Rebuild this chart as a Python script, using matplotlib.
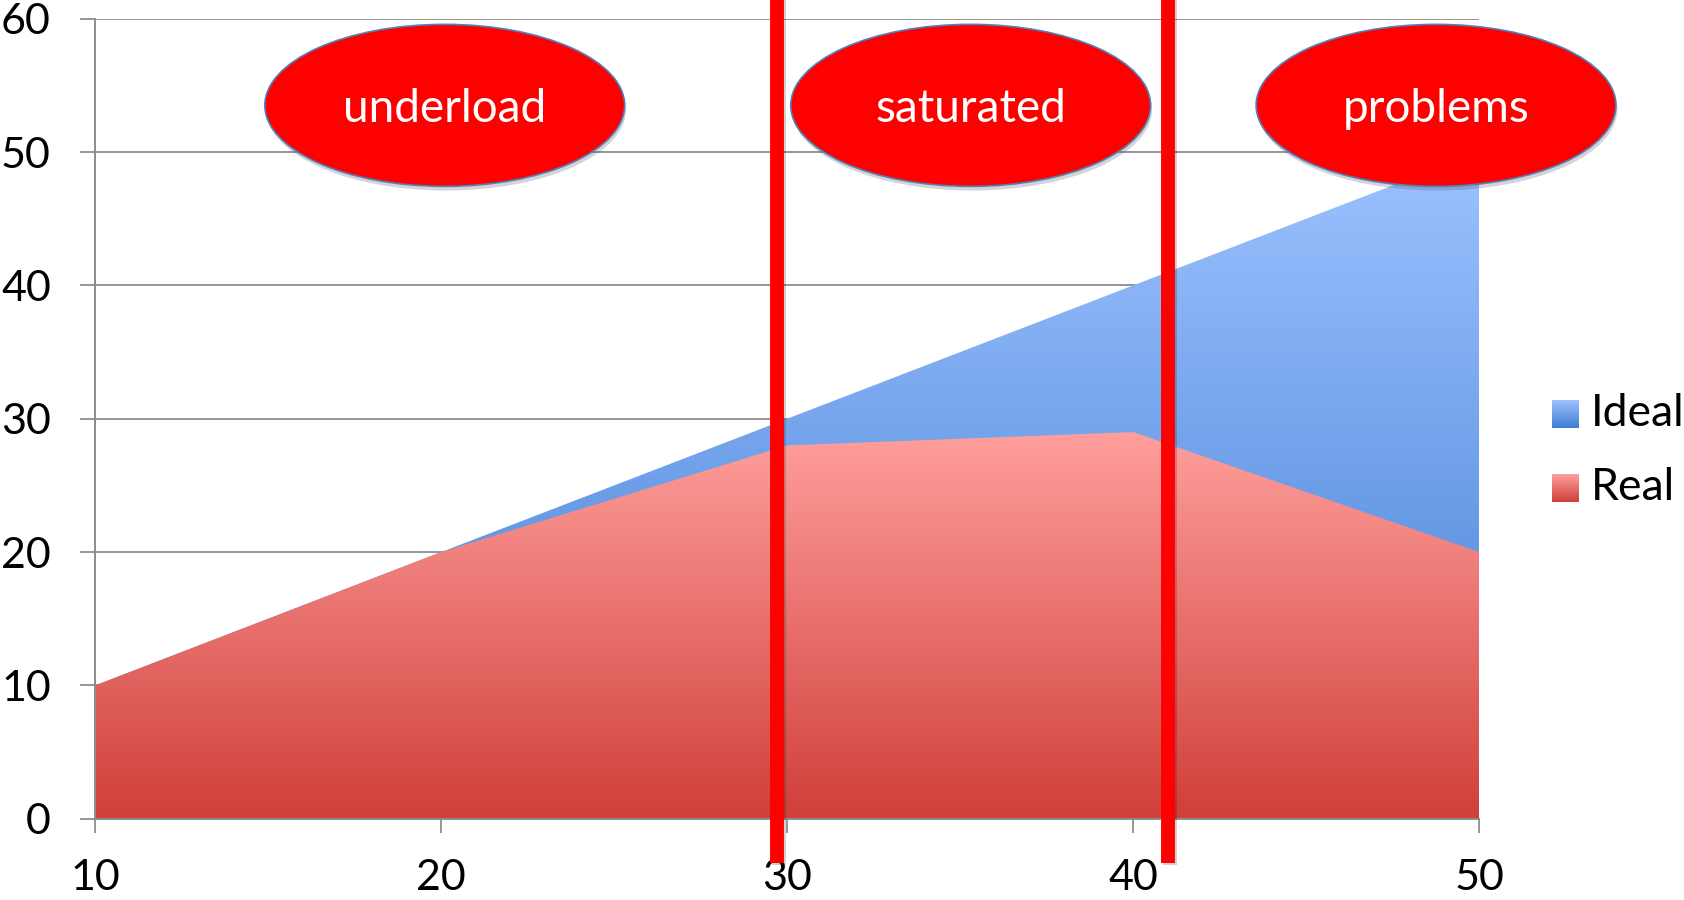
import numpy as np
import matplotlib
matplotlib.use('Agg')
import matplotlib.pyplot as plt
import matplotlib.patheffects as pe
from matplotlib.patches import Ellipse

plt.rcParams['font.family'] = ['Lato', 'DejaVu Sans']

# ── Data ────────────────────────────────────────────────────────────────────
x_vals     = [10, 20, 30, 40, 50]
ideal_vals = [10, 20, 30, 40, 50]
real_vals  = [10, 20, 28, 29, 20]

x_ticks = [10, 20, 30, 40, 50]
y_ticks = [0, 10, 20, 30, 40, 50, 60]

# regions marked on the chart
region_labels  = ['underload', 'saturated', 'problems']
region_centers = [20.1, 35.3, 48.75]
boundaries     = [29.7, 41.0]

# ── Colours ─────────────────────────────────────────────────────────────────
IDEAL_TOP, IDEAL_BOT = '#9DC2FF', '#3E7CD2'
REAL_TOP,  REAL_BOT  = '#FF9F9C', '#D03F3A'
GRID = '#8C8C8C'


def hex_rgb(h):
    return np.array(matplotlib.colors.to_rgb(h))


def gradient(top, bot, n=256):
    t = np.linspace(0, 1, n)[:, None, None]
    return hex_rgb(top) * (1 - t) + hex_rgb(bot) * t


def gradient_area(ax, x, y, top, bot, z):
    x = np.asarray(x, float)
    y = np.asarray(y, float)
    poly = ax.fill_between(x, 0, y, facecolor='none', edgecolor='none', zorder=z)
    im = ax.imshow(gradient(top, bot), extent=[x.min(), x.max(), 0, y.max()],
                   aspect='auto', origin='upper', zorder=z, interpolation='bilinear')
    im.set_clip_path(poly.get_paths()[0], transform=ax.transData)


fig = plt.figure(figsize=(16.84, 9.0), dpi=100)
ax = fig.add_axes([95.3 / 1684, 81.3 / 900, 1384 / 1684, 800 / 900])

gradient_area(ax, x_vals, ideal_vals, IDEAL_TOP, IDEAL_BOT, 2)
gradient_area(ax, x_vals, real_vals, REAL_TOP, REAL_BOT, 3)

ax.set_xlim(10, 50)
ax.set_ylim(0, 60)
ax.set_xticks(x_ticks)
ax.set_yticks(y_ticks)
ax.grid(axis='y', color=GRID, lw=1.3, zorder=1)
ax.set_axisbelow(True)
for s in ['top', 'right']:
    ax.spines[s].set_visible(False)
for s in ['left', 'bottom']:
    ax.spines[s].set_color(GRID)
    ax.spines[s].set_linewidth(1.4)
    ax.spines[s].set_zorder(4)
ax.tick_params(axis='y', length=11, width=1.3, color=GRID, pad=21, labelsize=31)
ax.tick_params(axis='x', length=10, width=1.3, color=GRID, pad=19, labelsize=31)

# vertical boundary lines
for b in boundaries:
    ax.axvline(b, ymin=-0.055, ymax=1.03, color='#FF0000', lw=10, clip_on=False,
               zorder=6, solid_capstyle='butt',
               path_effects=[pe.SimpleLineShadow(offset=(1.5, -2), alpha=0.18), pe.Normal()])

# region ellipses
for lab, cx in zip(region_labels, region_centers):
    e = Ellipse((cx, 53.5), 10.4, 12.15, facecolor='#FF0000', edgecolor='#4F81BD',
                lw=1.2, clip_on=False, zorder=7,
                path_effects=[pe.withSimplePatchShadow(offset=(1, -3), alpha=0.25,
                                                       shadow_rgbFace='#555555')])
    ax.add_patch(e)
    ax.text(cx, 53.2, lab, ha='center', va='center', color='white', fontsize=33,
            zorder=8, clip_on=False)

# legend
legend_items = [('Ideal', IDEAL_TOP, IDEAL_BOT, 400), ('Real', REAL_TOP, REAL_BOT, 474)]
for name, top, bot, ypix in legend_items:
    lax = fig.add_axes([1552 / 1684, 1 - (ypix + 27.7) / 900, 27 / 1684, 27.7 / 900])
    lax.imshow(gradient(top, bot), aspect='auto', interpolation='bilinear')
    lax.axis('off')
    fig.text(1591 / 1684, 1 - (ypix + 13) / 900, name, ha='left', va='center',
             fontsize=32)

fig.savefig('out.png', dpi=100)
